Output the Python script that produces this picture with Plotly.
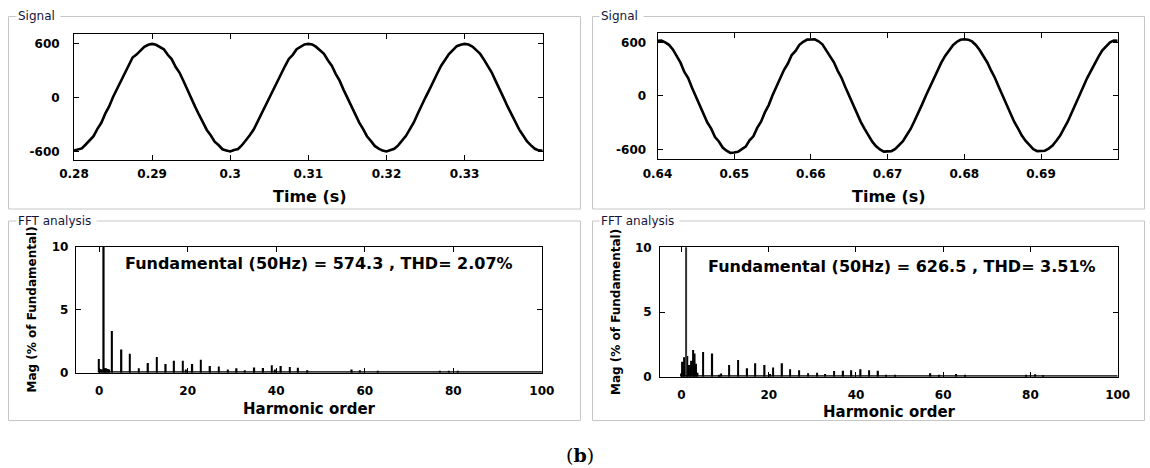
import numpy as np
import plotly.graph_objects as go

W, H = 1150, 468

# ---------------- data ----------------
t_left = np.round(np.arange(0.28, 0.34001, 0.0005), 4)
sig_left = [
    -590, -578, -566, -522, -478, -430, -348, -280, -178, -98,
    8, 96, 178, 282, 360, 448, 480, 528, 566, 590,
    600, 590, 562, 540, 478, 430, 344, 280, 188, 88,
    4, -100, -190, -268, -360, -420, -490, -528, -575, -588,
    -600, -584, -572, -530, -480, -420, -356, -266, -190, -90,
    2, 98, 182, 276, 350, 432, 478, 540, 565, 594,
    600, 594, 566, 532, 490, 418, 356, 266, 190, 90,
    -6, -92, -188, -276, -348, -430, -482, -538, -568, -590,
    -600, -585, -570, -532, -484, -426, -350, -276, -180, -96,
    4, 90, 188, 270, 356, 426, 486, 530, 574, 590,
    600, 592, 570, 530, 488, 422, 350, 276, 182, 96,
    -2, -98, -184, -270, -356, -422, -488, -532, -570, -588,
    -592]

t_right = np.round(np.arange(0.64, 0.70001, 0.0005), 4)
sig_right = [
    618, 620, 600, 572, 520, 440, 372, 268, 200, 90,
    -4, -110, -190, -300, -368, -462, -512, -580, -615, -640,
    -636, -628, -598, -570, -500, -454, -360, -290, -186, -104,
    6, 104, 186, 292, 362, 458, 504, 572, 606, 630,
    632, 634, 612, 578, 510, 448, 376, 280, 200, 96,
    -4, -104, -196, -292, -370, -450, -514, -566, -602, -626,
    -624, -620, -596, -556, -510, -440, -372, -282, -196, -96,
    4, 100, 198, 286, 372, 448, 510, 566, 604, 628,
    634, 630, 610, 570, 514, 440, 374, 282, 200, 98,
    -2, -100, -190, -290, -366, -446, -506, -556, -598, -620,
    -622, -616, -592, -558, -504, -446, -366, -288, -190, -100,
    4, 98, 196, 280, 372, 440, 510, 560, 600, 620,
    618]

# left FFT (harmonic order, % of fundamental)
fl_thick_h = [1, 5, 11, 15, 21, 25, 31, 35, 37, 41, 47, 57]
fl_thick_v = [100, 1.85, 0.77, 0.69, 0.69, 0.53, 0.35, 0.42, 0.37, 0.53, 0.2, 0.25]
fl_thin_h = [0, 3, 7, 9, 13, 17, 19, 19.67, 23, 27, 29, 33, 39, 39.67, 43, 45, 59, 63, 77, 79, 81]
fl_thin_v = [1.08, 3.3, 1.5, 0.35, 1.24, 0.95, 0.95, 0.25, 1.03, 0.5, 0.26, 0.2, 0.6, 0.25,
             0.45, 0.4, 0.2, 0.15, 0.15, 0.12, 0.12]
fl_side_h = [0.33, 0.67, 1.33, 1.67, 2.0, 2.33]
fl_side_v = [0.3, 0.25, 0.35, 0.35, 0.3, 0.25]
fl_floor_h = [0, 100]
fl_floor_v = [0.12, 0.12]

# right FFT
fr_fund_h = [1]
fr_fund_v = [100]
fr_cluster_h = [0.0, 0.33, 0.67, 1.33, 1.67, 2.0, 2.33, 2.67, 3.0, 3.33, 3.67]
fr_cluster_v = [0.25, 1.16, 1.5, 1.6, 0.9, 0.9, 1.24, 2.06, 1.8, 1.0, 0.3]
fr_thick_h = [7, 15, 19, 23, 37, 41, 45, 57]
fr_thick_v = [1.8, 0.65, 0.9, 1.03, 0.46, 0.57, 0.46, 0.26]
fr_thin_h = [5, 8.67, 9, 11, 13, 17, 20.33, 21, 25, 27, 29, 31, 33, 35, 39, 43, 47, 49,
             59, 63, 65, 79, 81, 83]
fr_thin_v = [1.9, 0.15, 0.25, 0.9, 1.3, 1.03, 0.2, 0.72, 0.57, 0.5, 0.26, 0.3, 0.2, 0.44,
             0.5, 0.5, 0.15, 0.15, 0.15, 0.2, 0.15, 0.15, 0.18, 0.12]
fr_floor_h = [0, 100]
fr_floor_v = [0.12, 0.12]

sig_left_ticks = [0.28, 0.29, 0.30, 0.31, 0.32, 0.33]
sig_left_ticktext = ["0.28", "0.29", "0.3", "0.31", "0.32", "0.33"]
sig_right_ticks = [0.64, 0.65, 0.66, 0.67, 0.68, 0.69]
sig_right_ticktext = ["0.64", "0.65", "0.66", "0.67", "0.68", "0.69"]
sig_yticks = [-600, 0, 600]
sig_yticktext = ["-600", "0", "600"]
fft_xticks = [0, 20, 40, 60, 80, 100]
fft_yticks = [0, 5, 10]

label_left = "Fundamental (50Hz) = 574.3 , THD= 2.07%"
label_right = "Fundamental (50Hz) = 626.5 , THD= 3.51%"

# ---------------- figure ----------------
FONT = "DejaVu Sans"
fig = go.Figure()

line_style = dict(color="black", width=2.6)
fig.add_trace(go.Scatter(x=t_left, y=sig_left, mode="lines", line=line_style,
                         xaxis="x", yaxis="y", showlegend=False))
fig.add_trace(go.Scatter(x=t_right, y=sig_right, mode="lines", line=line_style,
                         xaxis="x2", yaxis="y2", showlegend=False))


def floor_trace(h, v, xa, ya):
    return go.Scatter(x=h, y=v, mode="lines", line=dict(width=0, color="black"),
                      fill="tozeroy", fillcolor="black", xaxis=xa, yaxis=ya,
                      showlegend=False)


def bar_trace(h, v, w, xa, ya, color="black"):
    return go.Bar(x=h, y=v, width=w, marker=dict(color=color, line=dict(width=0)),
                  xaxis=xa, yaxis=ya, showlegend=False)


fig.add_trace(floor_trace(fl_floor_h, fl_floor_v, "x3", "y3"))
fig.add_trace(bar_trace(fl_side_h, fl_side_v, 0.34, "x3", "y3"))
fig.add_trace(bar_trace(fl_thin_h, fl_thin_v, 0.25, "x3", "y3"))
fig.add_trace(bar_trace(fl_thick_h, fl_thick_v, 0.5, "x3", "y3"))

fig.add_trace(floor_trace(fr_floor_h, fr_floor_v, "x4", "y4"))
fig.add_trace(bar_trace(fr_cluster_h, fr_cluster_v, 0.45, "x4", "y4"))
fig.add_trace(bar_trace(fr_thin_h, fr_thin_v, 0.25, "x4", "y4"))
fig.add_trace(bar_trace(fr_thick_h, fr_thick_v, 0.5, "x4", "y4"))
fig.add_trace(bar_trace(fr_fund_h, fr_fund_v, 0.22, "x4", "y4", color="#333333"))


def px(x):
    return x / W


def py(y):
    return 1 - y / H


def axis(domain, anchor, rng, tickvals, ticktext=None, standoff=4):
    d = dict(domain=domain, anchor=anchor, range=rng, tickvals=tickvals,
             automargin=False,
             showline=True, linecolor="black", linewidth=1, mirror="ticks",
             ticks="inside", ticklen=5, tickcolor="black", tickwidth=1,
             showgrid=False, zeroline=False, ticklabelstandoff=standoff,
             tickfont=dict(family=FONT, size=12, color="black", weight="bold"))
    if ticktext is not None:
        d["ticktext"] = ticktext
    return d


fig.update_layout(
    width=W, height=H, autosize=False,
    margin=dict(l=0, r=0, t=0, b=0, pad=0),
    paper_bgcolor="white", plot_bgcolor="white",
    barmode="overlay", showlegend=False,
    xaxis=axis([px(74), px(542.7)], "y", [0.28, 0.34], sig_left_ticks, sig_left_ticktext, 3),
    yaxis=axis([py(160), py(34)], "x", [-695, 710], sig_yticks, sig_yticktext, 11),
    xaxis2=axis([px(657.5), px(1117.7)], "y2", [0.64, 0.70], sig_right_ticks, sig_right_ticktext, 3),
    yaxis2=axis([py(159.3), py(32.7)], "x2", [-712, 708], sig_yticks, sig_yticktext, 8),
    xaxis3=axis([px(75.8), px(541.9)], "y3", [-5.25, 100], fft_xticks, None, 7),
    yaxis3=axis([py(372.7), py(246.7)], "x3", [0, 10], fft_yticks, None, 4),
    xaxis4=axis([px(660.1), px(1117.7)], "y4", [-4.9, 100], fft_xticks, None, 7),
    yaxis4=axis([py(376.7), py(247.3)], "x4", [0, 10], fft_yticks, None, 5),
)

# panel frames
BORDER = "#c6c6c6"
panels = [(8.5, 16.5, 580.5, 209), (592.5, 16.5, 1144.5, 209),
          (8.5, 221, 580.5, 420.5), (592.5, 221, 1144.5, 420.5)]
shapes = []
for x0, y0, x1, y1 in panels:
    shapes.append(dict(type="rect", xref="paper", yref="paper",
                       x0=px(x0), x1=px(x1), y0=py(y1), y1=py(y0),
                       line=dict(color=BORDER, width=1), layer="below"))
fig.update_layout(shapes=shapes)


def ann(text, x, y, size, bold=True, xanchor="center", angle=0, family=FONT,
        color="black", bg=None, pad=0):
    return dict(text=text, x=px(x), y=py(y), xref="paper", yref="paper",
                showarrow=False, xanchor=xanchor, yanchor="middle", textangle=angle,
                font=dict(family=family, size=size, color=color,
                          weight="bold" if bold else "normal"),
                bgcolor=bg, borderpad=pad)


TITLE_C = "#14143c"
annotations = [
    ann("Signal ", 15.5, 16.5, 12, bold=False, xanchor="left", color=TITLE_C, bg="white", pad=1),
    ann("Signal ", 599, 16.5, 12, bold=False, xanchor="left", color=TITLE_C, bg="white", pad=1),
    ann("FFT analysis ", 15.5, 221, 12, bold=False, xanchor="left", color=TITLE_C, bg="white", pad=1),
    ann("FFT analysis ", 599, 221, 12, bold=False, xanchor="left", color=TITLE_C, bg="white", pad=1),
    ann("Time (s)", 310, 196, 16),
    ann("Time (s)", 888.5, 196, 16),
    ann("Harmonic order", 309, 409, 15),
    ann("Harmonic order", 889, 412, 15),
    ann("Mag (% of Fundamental)", 31.5, 310, 12, angle=-90),
    ann("Mag (% of Fundamental)", 616, 312, 12, angle=-90),
    ann(label_left, 124, 263.5, 16, xanchor="left"),
    ann(label_right, 707, 266, 16, xanchor="left"),
    ann("(<b>b</b>)", 580, 455, 19, bold=False, family="DejaVu Serif"),
]
fig.update_layout(annotations=annotations)

fig.write_html("out.html", config={"displayModeBar": False},
               post_script="document.body.style.margin='0';")
